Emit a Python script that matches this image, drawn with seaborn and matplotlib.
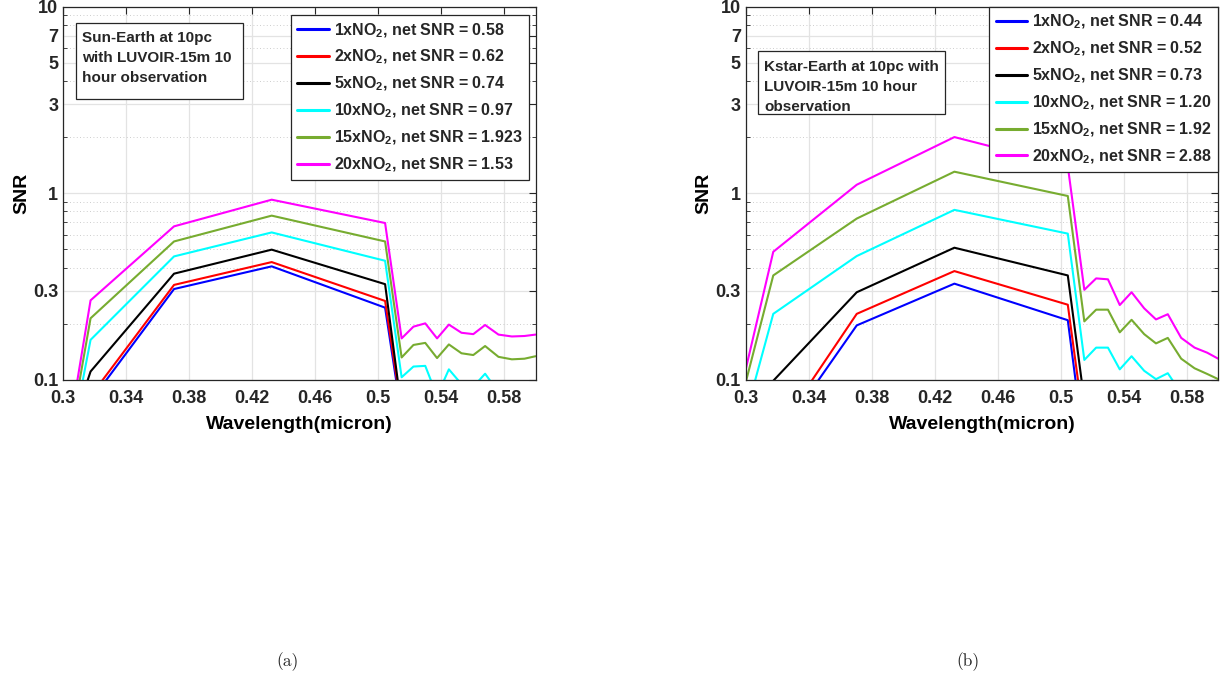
import numpy as np
import pandas as pd
import matplotlib
matplotlib.use("Agg")
import matplotlib.pyplot as plt
import seaborn as sns
from matplotlib.patches import Rectangle
from matplotlib.ticker import FixedLocator, NullFormatter

# ---------------- data ----------------
wavelength = [0.300, 0.3175, 0.3705, 0.4325, 0.5045, 0.515, 0.5225, 0.530, 0.5375,
              0.545, 0.553, 0.5605, 0.568, 0.5765, 0.585, 0.593, 0.600]

series_names = ["1x", "2x", "5x", "10x", "15x", "20x"]
line_colors = ["#0000ff", "#ff0000", "#000000", "#00ffff", "#77ac30", "#ff00ff"]

# (a) Sun-Earth
sun_1x = [0.030, 0.077, 0.307, 0.406, 0.244, 0.064, 0.070, 0.072, 0.062, 0.071, 0.066, 0.065, 0.070, 0.063, 0.060, 0.060, 0.062]
sun_2x = [0.032, 0.082, 0.323, 0.428, 0.265, 0.068, 0.075, 0.077, 0.066, 0.076, 0.070, 0.069, 0.075, 0.067, 0.065, 0.065, 0.067]
sun_5x = [0.040, 0.111, 0.371, 0.499, 0.326, 0.069, 0.079, 0.080, 0.068, 0.078, 0.073, 0.072, 0.078, 0.071, 0.068, 0.068, 0.071]
sun_10x = [0.028, 0.164, 0.459, 0.617, 0.435, 0.1034, 0.118, 0.119, 0.082, 0.114, 0.095, 0.092, 0.108, 0.086, 0.082, 0.082, 0.084]
sun_15x = [0.031, 0.214, 0.552, 0.759, 0.552, 0.132, 0.154, 0.158, 0.131, 0.155, 0.139, 0.136, 0.152, 0.133, 0.129, 0.130, 0.134]
sun_20x = [0.034, 0.267, 0.665, 0.924, 0.693, 0.167, 0.193, 0.201, 0.167, 0.198, 0.179, 0.176, 0.197, 0.175, 0.171, 0.172, 0.175]
sun_netsnr = ["0.58", "0.62", "0.74", "0.97", "1.923", "1.53"]

# (b) Kstar-Earth
k_1x = [0.010, 0.045, 0.196, 0.328, 0.209, 0.043, 0.050, 0.050, 0.040, 0.046, 0.039, 0.035, 0.037, 0.030, 0.027, 0.026, 0.024]
k_2x = [0.012, 0.049, 0.226, 0.383, 0.253, 0.056, 0.064, 0.064, 0.050, 0.058, 0.048, 0.043, 0.046, 0.036, 0.033, 0.031, 0.029]
k_5x = [0.020, 0.099, 0.295, 0.511, 0.363, 0.077, 0.088, 0.087, 0.066, 0.076, 0.062, 0.056, 0.059, 0.047, 0.042, 0.040, 0.037]
k_10x = [0.065, 0.226, 0.461, 0.815, 0.608, 0.128, 0.149, 0.149, 0.114, 0.134, 0.112, 0.101, 0.1087, 0.085, 0.077, 0.072, 0.068]
k_15x = [0.097, 0.363, 0.732, 1.305, 0.967, 0.206, 0.238, 0.238, 0.180, 0.210, 0.176, 0.157, 0.168, 0.130, 0.1155, 0.1077, 0.101]
k_20x = [0.114, 0.486, 1.111, 2.00, 1.40, 0.304, 0.350, 0.346, 0.252, 0.295, 0.242, 0.211, 0.225, 0.168, 0.149, 0.140, 0.130]
k_netsnr = ["0.44", "0.52", "0.73", "1.20", "1.92", "2.88"]

x_ticks = [0.3, 0.34, 0.38, 0.42, 0.46, 0.5, 0.54, 0.58]
x_ticklabels = ["0.3", "0.34", "0.38", "0.42", "0.46", "0.5", "0.54", "0.58"]
y_ticks = [0.1, 0.3, 1, 3, 5, 7, 10]
y_ticklabels = ["0.1", "0.3", "1", "3", "5", "7", "10"]
y_minor = [0.2, 0.4, 0.5, 0.6, 0.7, 0.8, 0.9, 2, 4, 6, 8, 9]

note_a = "Sun-Earth at 10pc\nwith LUVOIR-15m 10\nhour observation"
note_b = "Kstar-Earth at 10pc with\nLUVOIR-15m 10 hour\nobservation"

# ---------------- style ----------------
sns.set_style("white")
plt.rcParams["font.family"] = ["Liberation Sans", "DejaVu Sans"]
plt.rcParams["mathtext.fontset"] = "custom"
plt.rcParams["mathtext.rm"] = "Liberation Sans:bold"
plt.rcParams["mathtext.bf"] = "Liberation Sans:bold"
plt.rcParams["font.weight"] = "bold"

AX_COLOR = "#262626"

fig = plt.figure(figsize=(12.23, 6.79), dpi=100)
ax_a = fig.add_axes([63 / 1223, 0.4404, 472.5 / 1223, 0.5499])
ax_b = fig.add_axes([745.7 / 1223, 0.4404, 472.5 / 1223, 0.5499])


def make_df(values, netsnr):
    rows = []
    for name, vals, snr in zip(series_names, values, netsnr):
        lab = rf"{name}NO$_\mathbf{{2}}$, net SNR = {snr}"
        for w, v in zip(wavelength, vals):
            rows.append({"wl": w, "snr": v, "label": lab})
    return pd.DataFrame(rows)


def draw(ax, df, note, note_xy, box, leg_anchor):
    labels = list(dict.fromkeys(df["label"]))
    sns.lineplot(data=df, x="wl", y="snr", hue="label", hue_order=labels,
                 palette=line_colors, sort=False, estimator=None,
                 linewidth=1.5, ax=ax, legend=True)
    ax.set_yscale("log")
    ax.set_xlim(0.3, 0.6)
    ax.set_ylim(0.1, 10)
    ax.set_xticks(x_ticks)
    ax.set_xticklabels(x_ticklabels)
    ax.yaxis.set_major_locator(FixedLocator(y_ticks))
    ax.set_yticklabels(y_ticklabels)
    ax.yaxis.set_minor_locator(FixedLocator(y_minor))
    ax.yaxis.set_minor_formatter(NullFormatter())
    ax.grid(True, which="major", color="#e3e3e3", linewidth=0.9, linestyle="-")
    ax.grid(True, which="minor", axis="y", color="#bdbdbd", linewidth=0.6,
            linestyle=(0, (1, 3)))
    ax.set_axisbelow(True)
    for s in ax.spines.values():
        s.set_color(AX_COLOR)
        s.set_linewidth(0.9)
        s.set_visible(True)
    ax.tick_params(axis="x", which="major", pad=7)
    ax.tick_params(axis="both", which="major", direction="in", length=5,
                   width=0.8, color=AX_COLOR, top=True, right=True,
                   labelsize=13, labelcolor=AX_COLOR)
    ax.tick_params(axis="y", which="minor", direction="in", length=3,
                   width=0.6, color=AX_COLOR, left=True, right=True)
    for lab in ax.get_xticklabels() + ax.get_yticklabels():
        lab.set_fontweight("bold")
    ax.set_xlabel("Wavelength(micron)", fontsize=14, fontweight="bold",
                  color="black", labelpad=7)
    ax.set_ylabel("SNR", fontsize=14, fontweight="bold", color="black",
                  labelpad=2)
    handles, labs = ax.get_legend_handles_labels()
    leg = ax.legend(handles, labs, loc="upper right", bbox_to_anchor=leg_anchor,
                    borderaxespad=0, fontsize=11.5, frameon=True, fancybox=False,
                    framealpha=1, edgecolor=AX_COLOR, handlelength=2.0,
                    handletextpad=0.3, labelspacing=0.53, borderpad=0.4)
    leg.get_frame().set_linewidth(0.9)
    leg.set_zorder(6)
    for t in leg.get_texts():
        t.set_fontweight("bold")
    for h in leg.get_lines():
        h.set_linewidth(2.2)
    x0, y0, x1, y1 = box
    ax.add_patch(Rectangle((x0, y0), x1 - x0, y1 - y0, transform=ax.transAxes,
                           facecolor="white", edgecolor=AX_COLOR, linewidth=0.9,
                           zorder=5))
    ax.text(note_xy[0], note_xy[1], note, transform=ax.transAxes, ha="left",
            va="top", fontsize=11, fontweight="bold", linespacing=1.55,
            zorder=6)


draw(ax_a, make_df([sun_1x, sun_2x, sun_5x, sun_10x, sun_15x, sun_20x], sun_netsnr),
     note_a, (0.0396, 0.935), (0.0275, 0.7526, 0.381, 0.956), (0.986, 0.978))
draw(ax_b, make_df([k_1x, k_2x, k_5x, k_10x, k_15x, k_20x], k_netsnr),
     note_b, (0.0387, 0.858), (0.026, 0.7124, 0.4218, 0.881), (1.0, 1.0))

fig.text(288 / 1223, 1 - 662 / 679, "(a)", family="cmr10", fontsize=12.5,
         fontweight="normal", ha="center", va="center")
fig.text(968 / 1223, 1 - 662 / 679, "(b)", family="cmr10", fontsize=12.5,
         fontweight="normal", ha="center", va="center")

fig.savefig("out.png", dpi=100, facecolor="white")
